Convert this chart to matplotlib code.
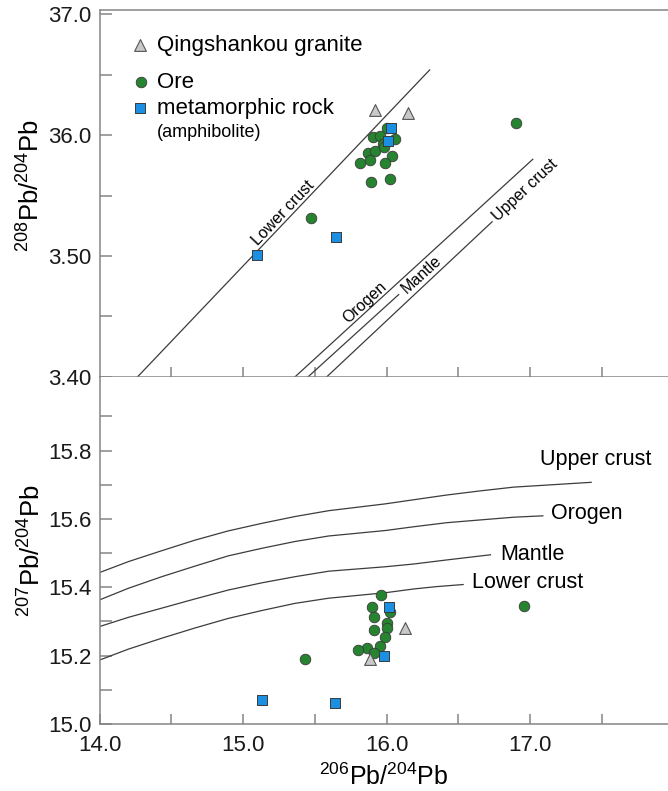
import matplotlib
matplotlib.use('Agg')
import matplotlib.pyplot as plt
import numpy as np

plt.rcParams['font.family'] = ['Liberation Sans', 'DejaVu Sans']
plt.rcParams['mathtext.fontset'] = 'custom'
plt.rcParams['mathtext.rm'] = 'Liberation Sans'
plt.rcParams['mathtext.it'] = 'Liberation Sans'
plt.rcParams['mathtext.default'] = 'regular'

# ---------------- data ----------------
# top panel: 208Pb/204Pb vs 206Pb/204Pb
granite_top_x = [15.92, 16.15]
granite_top_y = [36.21, 36.18]
ore_top_x = [16.90, 15.475, 16.003, 15.902, 15.951, 15.975, 16.061, 15.867,
             15.921, 15.979, 16.038, 15.817, 15.886, 15.986, 15.891, 16.026]
ore_top_y = [36.10, 35.314, 36.056, 35.987, 35.992, 35.93, 35.967, 35.848,
             35.87, 35.898, 35.828, 35.77, 35.79, 35.77, 35.61, 35.633]
meta_top_x = [15.10, 15.649, 16.033, 16.01]
meta_top_y = [35.01, 35.16, 36.056, 35.95]

# reference lines in top panel
lc_top_x, lc_top_y = [14.266, 16.30], [34.0, 36.54]
or_top_x, or_top_y = [15.363, 17.018], [34.0, 35.80]
ma_top_x, ma_top_y = [15.454, 16.084], [34.0, 34.68]
uc_top_x, uc_top_y = [15.584, 16.735], [34.0, 35.283]

top_yticks = [34.0, 35.0, 36.0, 37.0]
top_yticklabels = ['3.40', '3.50', '36.0', '37.0']
top_yminor = [34.5, 35.5, 36.5]

# bottom panel: 207Pb/204Pb vs 206Pb/204Pb
granite_bot_x = [15.881, 16.13]
granite_bot_y = [15.189, 15.28]
ore_bot_x = [15.433, 16.96, 15.963, 15.898, 16.021, 15.914, 16.003, 16.003,
             15.909, 15.991, 15.951, 15.863, 15.798, 15.909]
ore_bot_y = [15.19, 15.346, 15.378, 15.343, 15.329, 15.312, 15.295, 15.28,
             15.275, 15.255, 15.228, 15.221, 15.217, 15.207]
meta_bot_x = [15.135, 15.642, 16.014, 15.984]
meta_bot_y = [15.07, 15.062, 15.343, 15.199]

upper_x = [14.0, 14.201, 14.434, 14.666, 14.898, 15.131, 15.363, 15.596,
           15.991, 16.188, 16.421, 16.653, 16.886, 17.118, 17.425]
upper_y = [15.443, 15.475, 15.507, 15.538, 15.565, 15.587, 15.607, 15.624,
           15.644, 15.656, 15.670, 15.682, 15.693, 15.699, 15.707]
orogen_x = [14.0, 14.201, 14.434, 14.666, 14.898, 15.131, 15.363, 15.596,
            15.991, 16.188, 16.421, 16.653, 16.886, 17.088]
orogen_y = [15.363, 15.397, 15.431, 15.462, 15.492, 15.514, 15.534, 15.550,
            15.566, 15.577, 15.589, 15.597, 15.605, 15.609]
mantle_x = [14.0, 14.201, 14.434, 14.666, 14.898, 15.131, 15.363, 15.596,
            15.991, 16.188, 16.420, 16.723]
mantle_y = [15.285, 15.312, 15.339, 15.366, 15.392, 15.413, 15.431, 15.447,
            15.460, 15.468, 15.480, 15.495]
lower_x = [14.0, 14.201, 14.434, 14.666, 14.898, 15.131, 15.363, 15.596,
           15.991, 16.188, 16.35, 16.533]
lower_y = [15.187, 15.219, 15.251, 15.281, 15.309, 15.332, 15.353, 15.368,
           15.384, 15.395, 15.402, 15.408]

bot_xticks = [14.0, 15.0, 16.0, 17.0]
bot_xticklabels = ['14.0', '15.0', '16.0', '17.0']
bot_xminor = [14.5, 15.5, 16.5, 17.5]
bot_yticks = [15.0, 15.2, 15.4, 15.6, 15.8]
bot_yticklabels = ['15.0', '15.2', '15.4', '15.6', '15.8']
bot_yminor = [15.1, 15.3, 15.5, 15.7, 15.9]

# ---------------- style ----------------
GREEN = '#26832f'
BLUE = '#1b8fe2'
GRAY = '#c9c9c9'
EDGE = '#3a3a3a'
SPINE = '#858585'
LINE = '#3c3c3c'
S_CIR, S_SQ, S_TRI = 58, 62, 72

W, H = 668, 791
fig = plt.figure(figsize=(W / 100, H / 100), dpi=100)
left = 99.5 / W
ax_top = fig.add_axes([left, 1 - 376.7 / H, 1 - left, (376.7 - 9.5) / H])
ax_bot = fig.add_axes([left, 1 - 724 / H, 1 - left, (724 - 376.7) / H])

XMIN, XMAX = 14.0, 17.96
ax_top.set_xlim(XMIN, XMAX)
ax_top.set_ylim(34.0, 37.04)
ax_bot.set_xlim(XMIN, XMAX)
ax_bot.set_ylim(15.0, 16.016)

for ax in (ax_top, ax_bot):
    for s in ax.spines.values():
        s.set_color(SPINE)
        s.set_linewidth(1.1)
    ax.spines['right'].set_visible(False)
    ax.tick_params(axis='both', which='both', direction='in', color=SPINE,
                   width=1.1, labelsize=16, labelcolor='#1a1a1a')
    ax.tick_params(axis='y', which='both', length=8.5, pad=6)
    ax.tick_params(axis='x', which='both', length=7, pad=8)
ax_bot.spines['top'].set_visible(False)

ax_top.set_yticks(top_yticks)
ax_top.set_yticklabels(top_yticklabels)
ax_top.set_yticks(top_yminor, minor=True)
ax_top.set_xticks(bot_xticks[1:] + bot_xminor)
ax_top.set_xticklabels([])

ax_bot.set_xticks(bot_xticks)
ax_bot.set_xticklabels(bot_xticklabels)
ax_bot.set_xticks(bot_xminor, minor=True)
ax_bot.set_yticks(bot_yticks)
ax_bot.set_yticklabels(bot_yticklabels)
ax_bot.set_yticks(bot_yminor, minor=True)


def disp_angle(ax, xs, ys):
    p0 = ax.transData.transform((xs[0], ys[0]))
    p1 = ax.transData.transform((xs[1], ys[1]))
    return np.degrees(np.arctan2(p1[1] - p0[1], p1[0] - p0[0]))


def line_y(xs, ys, x):
    return ys[0] + (ys[1] - ys[0]) / (xs[1] - xs[0]) * (x - xs[0])


# ---- top panel lines ----
for xs, ys in [(lc_top_x, lc_top_y), (or_top_x, or_top_y),
               (ma_top_x, ma_top_y), (uc_top_x, uc_top_y)]:
    ax_top.plot(xs, ys, color=LINE, lw=0.9, zorder=2)

lab_fs = 11.5
ax_top.text(15.32, line_y(lc_top_x, lc_top_y, 15.32), 'Lower crust',
            rotation=disp_angle(ax_top, lc_top_x, lc_top_y),
            rotation_mode='anchor', ha='center', va='bottom', fontsize=lab_fs)
ax_top.text(15.886, line_y(or_top_x, or_top_y, 15.886), 'Orogen',
            rotation=disp_angle(ax_top, or_top_x, or_top_y),
            rotation_mode='anchor', ha='center', va='bottom', fontsize=lab_fs)
ax_top.text(16.24, line_y(ma_top_x, ma_top_y, 16.24), 'Mantle',
            rotation=disp_angle(ax_top, ma_top_x, ma_top_y),
            rotation_mode='anchor', ha='center', va='center', fontsize=lab_fs)
ax_top.text(16.967, line_y(uc_top_x, uc_top_y, 16.967), 'Upper crust',
            rotation=disp_angle(ax_top, uc_top_x, uc_top_y),
            rotation_mode='anchor', ha='center', va='center', fontsize=lab_fs)

# ---- top panel points ----
ax_top.scatter(ore_top_x, ore_top_y, s=S_CIR, marker='o', c=GREEN,
               edgecolors=EDGE, linewidths=0.6, zorder=3)
ax_top.scatter(granite_top_x, granite_top_y, s=S_TRI, marker='^', c=GRAY,
               edgecolors='#555555', linewidths=0.8, zorder=4)
ax_top.scatter(meta_top_x, meta_top_y, s=S_SQ, marker='s', c=BLUE,
               edgecolors=EDGE, linewidths=0.7, zorder=5)

# legend (drawn manually)
leg_fs = 16
ax_top.scatter([0.0712], [0.903], s=S_TRI, marker='^', c=GRAY,
               edgecolors='#555555', linewidths=0.8,
               transform=ax_top.transAxes, clip_on=False, zorder=5)
ax_top.text(0.1006, 0.903, 'Qingshankou granite', transform=ax_top.transAxes,
            va='center', ha='left', fontsize=leg_fs)
ax_top.scatter([0.0725], [0.802], s=S_CIR, marker='o', c=GREEN,
               edgecolors=EDGE, linewidths=0.6,
               transform=ax_top.transAxes, clip_on=False, zorder=5)
ax_top.text(0.1006, 0.802, 'Ore', transform=ax_top.transAxes,
            va='center', ha='left', fontsize=leg_fs)
ax_top.scatter([0.0712], [0.731], s=S_SQ, marker='s', c=BLUE,
               edgecolors=EDGE, linewidths=0.7,
               transform=ax_top.transAxes, clip_on=False, zorder=5)
ax_top.text(0.1006, 0.731, 'metamorphic rock', transform=ax_top.transAxes,
            va='center', ha='left', fontsize=leg_fs)
ax_top.text(0.1006, 0.666, '(amphibolite)', transform=ax_top.transAxes,
            va='center', ha='left', fontsize=13)

# ---- bottom panel curves ----
for xs, ys in [(upper_x, upper_y), (orogen_x, orogen_y),
               (mantle_x, mantle_y), (lower_x, lower_y)]:
    ax_bot.plot(xs, ys, color=LINE, lw=0.9, zorder=2, solid_joinstyle='round')

bl_fs = 15.5
ax_bot.text(17.067, 15.773, 'Upper crust', ha='left', va='center', fontsize=bl_fs)
ax_bot.text(17.146, 15.617, 'Orogen', ha='left', va='center', fontsize=bl_fs)
ax_bot.text(16.793, 15.495, 'Mantle', ha='left', va='center', fontsize=bl_fs)
ax_bot.text(16.595, 15.415, 'Lower crust', ha='left', va='center', fontsize=bl_fs)

ax_bot.scatter(ore_bot_x, ore_bot_y, s=S_CIR, marker='o', c=GREEN,
               edgecolors=EDGE, linewidths=0.6, zorder=3)
ax_bot.scatter(granite_bot_x, granite_bot_y, s=S_TRI, marker='^', c=GRAY,
               edgecolors='#555555', linewidths=0.8, zorder=4)
ax_bot.scatter(meta_bot_x, meta_bot_y, s=S_SQ, marker='s', c=BLUE,
               edgecolors=EDGE, linewidths=0.7, zorder=5)

# axis labels
fig.text(31 / W, 1 - 185 / H, r'$^{208}$Pb/$^{204}$Pb', rotation=90,
         ha='center', va='center', fontsize=18.5)
fig.text(32 / W, 1 - 550 / H, r'$^{207}$Pb/$^{204}$Pb', rotation=90,
         ha='center', va='center', fontsize=18.5)
fig.text(384 / W, 1 - 777 / H, r'$^{206}$Pb/$^{204}$Pb',
         ha='center', va='center', fontsize=18)

fig.savefig('out.png', dpi=100)
